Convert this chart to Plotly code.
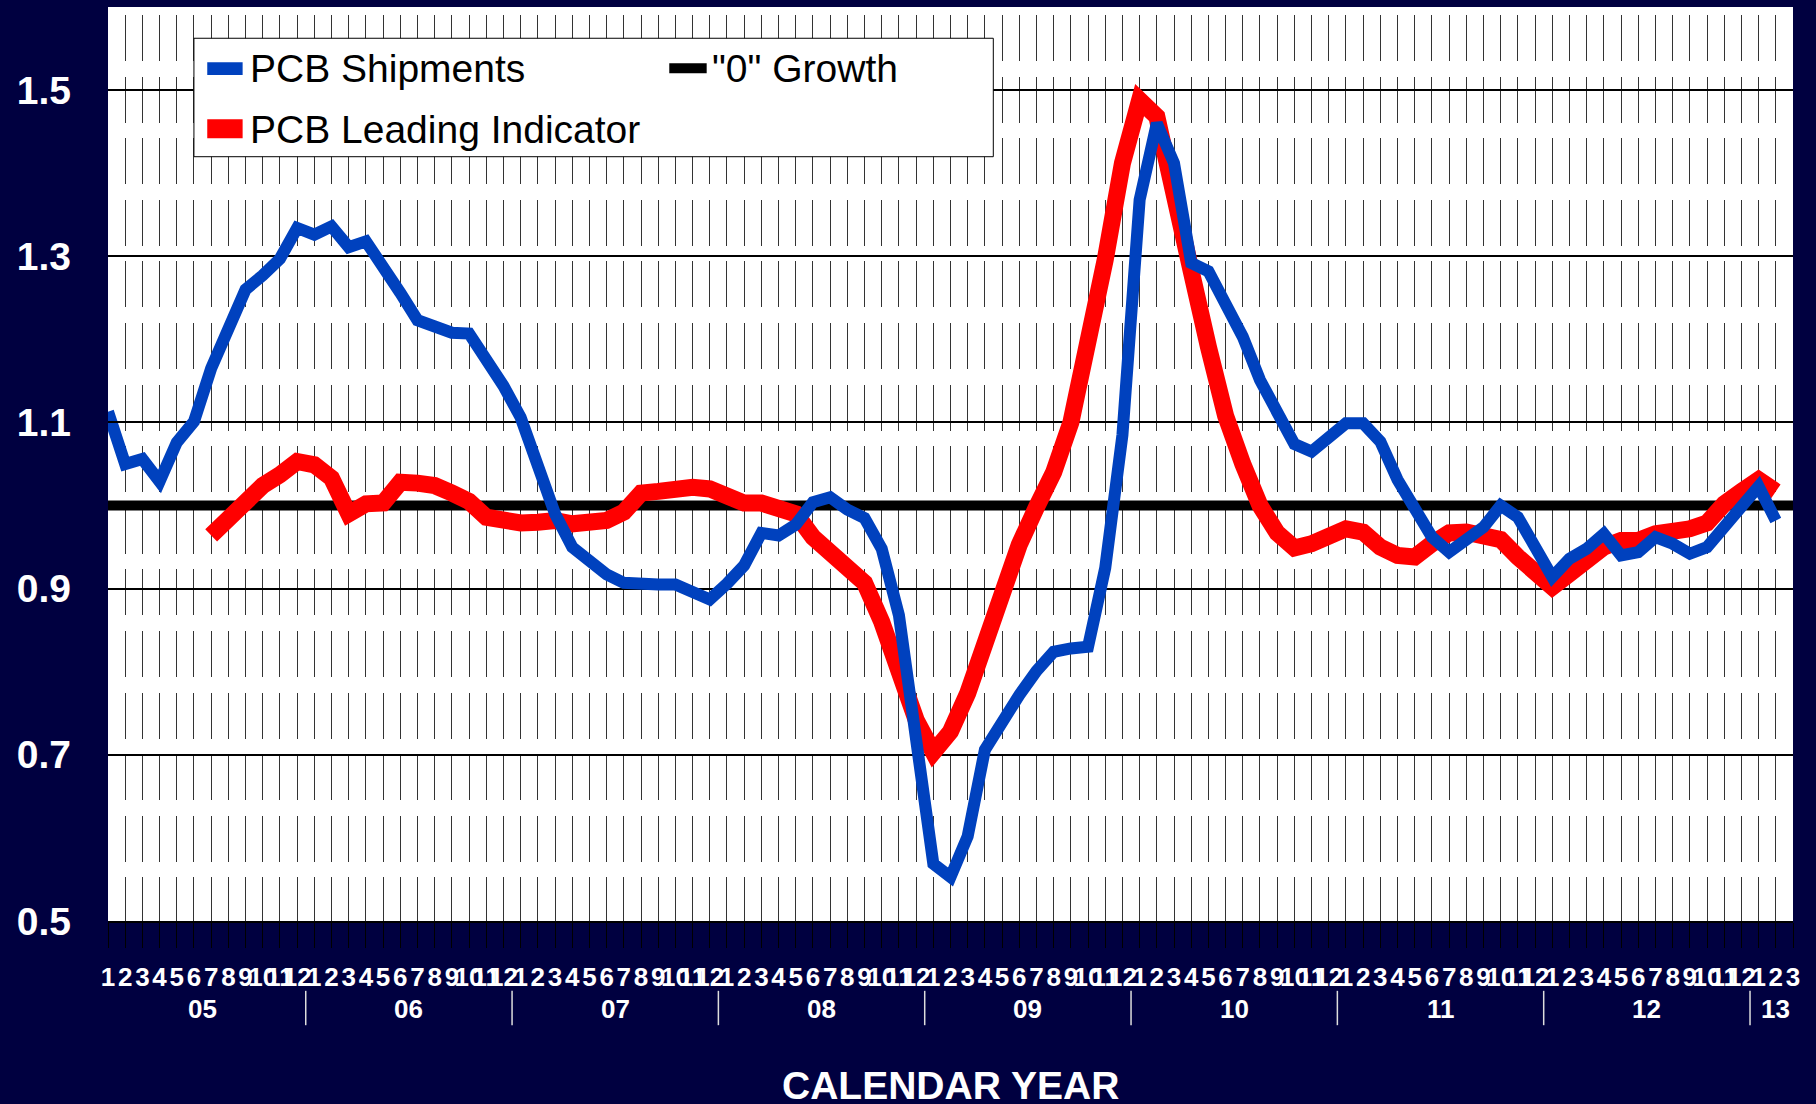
import plotly.graph_objects as go

# calendar: Jan 2005 .. Mar 2013
year_labels = ["05", "06", "07", "08", "09", "10", "11", "12", "13"]
month_labels = [str(m) for m in range(1, 13)]
periods = [(y, m) for y in year_labels for m in month_labels][:99]

# 3/12 ratios (None = no value)
pcb_shipments = [
    1.113, 1.050, 1.056, 1.029, 1.076, 1.101, 1.165, 1.213, 1.260, 1.277, 1.297, 1.334,
    1.326, 1.336, 1.311, 1.318, 1.289, 1.256, 1.223, 1.214, 1.208, 1.207, 1.177, 1.144,
    1.106, 1.050, 0.990, 0.950, 0.933, 0.917, 0.907, 0.905, 0.905, 0.905, 0.896, 0.887,
    0.906, 0.928, 0.967, 0.964, 0.977, 1.004, 1.010, 0.995, 0.985, 0.948, 0.868, 0.724,
    0.569, 0.553, 0.602, 0.706, 0.740, 0.772, 0.801, 0.824, 0.828, 0.830, 0.925, 1.085,
    1.368, 1.460, 1.412, 1.292, 1.282, 1.244, 1.203, 1.151, 1.110, 1.074, 1.065, 1.082,
    1.099, 1.099, 1.077, 1.031, 0.997, 0.962, 0.944, 0.958, 0.974, 1.000, 0.986, 0.950,
    0.914, 0.936, 0.948, 0.966, 0.940, 0.944, 0.962, 0.954, 0.942, 0.950, 0.974, 0.998,
    1.023, 0.982, None,
]
lead_indicator = [
    None, None, None, None, None, None, 0.964, 0.985, 1.008, 1.024, 1.037, 1.053,
    1.049, 1.033, 0.990, 1.002, 1.003, 1.028, 1.027, 1.024, 1.015, 1.005, 0.986, 0.982,
    0.979, 0.980, 0.982, 0.978, 0.978, 0.982, 0.992, 1.015, 1.017, 1.021, 1.022, 1.020,
    1.011, 1.003, 1.003, 0.997, 0.990, 0.962, 0.944, 0.930, 0.907, 0.860, 0.805, 0.742,
    0.703, 0.728, 0.774, 0.834, 0.890, 0.953, 0.998, 1.040, 1.100, 1.190, 1.296, 1.412,
    1.488, 1.468, 1.384, 1.282, 1.191, 1.108, 1.050, 1.000, 0.967, 0.949, 0.954, 0.962,
    0.972, 0.968, 0.950, 0.940, 0.938, 0.954, 0.967, 0.968, 0.964, 0.959, 0.938, 0.920,
    0.902, 0.918, 0.934, 0.950, 0.958, 0.958, 0.966, 0.968, 0.972, 0.979, 1.002, 1.017,
    1.031, 1.017, None,
]
zero_growth = [1.0] * len(periods)

y_ticks = [0.5, 0.7, 0.9, 1.1, 1.3, 1.5]

NAVY = "#000040"
FONT = "Liberation Sans, Arial, sans-serif"
BLUE = "#0041BE"
RED = "#FF0000"

x_idx = list(range(len(periods)))
tick_text = [m for (y, m) in periods]

fig = go.Figure()
fig.add_trace(go.Scatter(x=x_idx, y=zero_growth, name='"0" Growth', mode="lines",
                         line=dict(color="black", width=10)))
fig.add_trace(go.Scatter(x=x_idx, y=lead_indicator, name="PCB Leading Indicator", mode="lines",
                         line=dict(color=RED, width=17)))
fig.add_trace(go.Scatter(x=x_idx, y=pcb_shipments, name="PCB Shipments", mode="lines",
                         line=dict(color=BLUE, width=12)))

# dashed month grid, pattern measured from the top of the plot
grid_dash = "0px,8px," + ",".join(["46px,15.6px"] * 16)

fig.update_xaxes(
    range=[0, len(periods) - 1], tickmode="array", tickvals=x_idx, ticktext=tick_text,
    tickangle=0, showgrid=True, gridcolor="#333333", gridwidth=1.3, griddash=grid_dash,
    ticks="outside", ticklen=25, tickcolor="black", tickwidth=1,
    tickfont=dict(family=FONT, size=26, color="white", weight="bold"),
    ticklabelstandoff=7,
    showline=True, linecolor="black", linewidth=2, zeroline=False,
)
fig.update_yaxes(
    range=[0.5, 1.6], tickmode="array", tickvals=y_ticks,
    ticktext=[f"{v:.1f}" for v in y_ticks],
    showgrid=True, gridcolor="black", gridwidth=1.5,
    ticks="inside", ticklen=25, tickcolor="black", tickwidth=2,
    tickfont=dict(family=FONT, size=39, color="white", weight="bold"),
    ticklabelstandoff=36, zeroline=False,
)

# year labels and separators under the month numbers
shapes = []
annotations = []
for k, yr in enumerate(year_labels):
    idx = [i for i, p in enumerate(periods) if p[0] == yr]
    annotations.append(dict(x=sum(idx) / len(idx), y=-0.0963, xref="x", yref="paper",
                            text=yr, showarrow=False, yanchor="middle",
                            font=dict(family=FONT, size=26, color="white", weight="bold")))
    if k > 0:
        shapes.append(dict(type="line", xref="x", yref="paper", x0=idx[0] - 0.5, x1=idx[0] - 0.5,
                           y0=-0.0764, y1=-0.114, line=dict(color="#DDDDDD", width=1.5)))

annotations.append(dict(x=0.5, y=-0.1805, xref="paper", yref="paper", text="CALENDAR YEAR",
                        showarrow=False, yanchor="middle",
                        font=dict(family=FONT, size=39, color="white", weight="bold")))

# legend: frame, swatches and labels
shapes.append(dict(type="rect", xref="paper", yref="paper", x0=0.051, x1=0.5254,
                   y0=0.8362, y1=0.9658, fillcolor="white", line=dict(color="black", width=1),
                   layer="above"))
legend_items = [
    # name, colour, swatch x0, x1, y0, y1, text x, text y
    ("PCB Shipments", BLUE, 0.0589, 0.0799, 0.9256, 0.9395, 0.0828, 0.9327),
    ('"0" Growth', "black", 0.3331, 0.3553, 0.9275, 0.9384, 0.3571, 0.9327),
    ("PCB Leading Indicator", RED, 0.0589, 0.0799, 0.8563, 0.8771, 0.0828, 0.8665),
]
for name, col, sx0, sx1, sy0, sy1, tx, ty in legend_items:
    shapes.append(dict(type="rect", xref="paper", yref="paper", x0=sx0, x1=sx1, y0=sy0, y1=sy1,
                       fillcolor=col, line=dict(width=0), layer="above"))
    annotations.append(dict(x=tx, y=ty, xref="paper", yref="paper", text=name, showarrow=False,
                            xanchor="left", yanchor="middle",
                            font=dict(family=FONT, size=39, color="black")))

fig.update_layout(
    width=1816, height=1104,
    margin=dict(l=108, r=23, t=7, b=183),
    paper_bgcolor=NAVY, plot_bgcolor="white",
    showlegend=False,
    shapes=shapes, annotations=annotations,
)

fig.write_html("out.html", config={"displayModeBar": False},
               post_script="document.body.style.margin='0';document.body.style.overflow='hidden';")
